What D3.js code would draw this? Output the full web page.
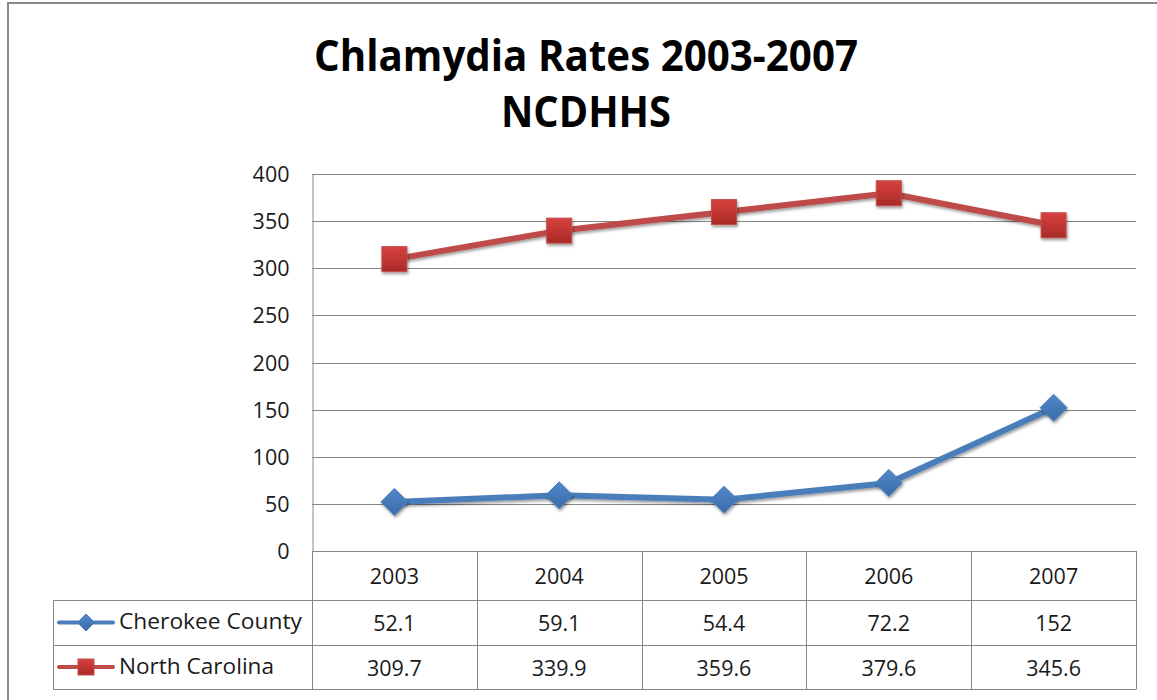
<!DOCTYPE html>
<html>
<head>
<meta charset="UTF-8">
<script src="https://cdnjs.cloudflare.com/ajax/libs/d3/7.8.5/d3.min.js"></script>
<style>
  body { margin: 0; background: #fff; }
  svg { display: block; }
</style>
</head>
<body>
<div id="chart"></div>
<script>
// dados
const years = ['2003', '2004', '2005', '2006', '2007'];
const cherokee = [52.1, 59.1, 54.4, 72.2, 152];
const northCarolina = [309.7, 339.9, 359.6, 379.6, 345.6];
const cherokeeLabels = ['52.1', '59.1', '54.4', '72.2', '152'];
const ncLabels = ['309.7', '339.9', '359.6', '379.6', '345.6'];
const yTicks = [0, 50, 100, 150, 200, 250, 300, 350, 400];

const series = [
  { name: 'Cherokee County', values: cherokee, labels: cherokeeLabels, color: '#4a7ebb', shape: 'diamond' },
  { name: 'North Carolina', values: northCarolina, labels: ncLabels, color: '#be4b48', shape: 'square' }
];

const width = 1157, height = 700;
const font = "'Open Sans', 'Liberation Sans', sans-serif";
const fs = 21.5;
const plot = { left: 312, right: 1136, top: 174, bottom: 551 };
const tableLeft = 53;
const rowH = [49, 45, 44];

const svg = d3.select('#chart').append('svg')
  .attr('width', width).attr('height', height);

const defs = svg.append('defs');
const shadow = defs.append('filter').attr('id', 'shadow')
  .attr('x', '-50%').attr('y', '-50%').attr('width', '200%').attr('height', '200%');
shadow.append('feDropShadow').attr('dx', 1).attr('dy', 2)
  .attr('stdDeviation', 1.6).attr('flood-color', '#000').attr('flood-opacity', 0.4);

function gradient(id, top, bottom) {
  const g = defs.append('linearGradient').attr('id', id)
    .attr('x1', 0).attr('y1', 0).attr('x2', 0).attr('y2', 1);
  g.append('stop').attr('offset', '0%').attr('stop-color', top);
  g.append('stop').attr('offset', '100%').attr('stop-color', bottom);
}
gradient('gradRed', '#d8413e', '#a92a27');
gradient('gradBlue', '#5189cc', '#3a6aa8');

// moldura externa
svg.append('rect')
  .attr('x', 8).attr('y', 3).attr('width', 1200).attr('height', 750)
  .attr('fill', 'none').attr('stroke', '#8a8a8a').attr('stroke-width', 2);

// título
const title = svg.append('g').attr('font-family', font).attr('font-weight', 'bold')
  .attr('text-anchor', 'middle').attr('fill', '#000');
title.append('text').attr('x', 586).attr('y', 71).attr('font-size', 43)
  .attr('textLength', 544).attr('lengthAdjust', 'spacingAndGlyphs')
  .text('Chlamydia Rates 2003-2007');
title.append('text').attr('x', 586).attr('y', 127).attr('font-size', 43)
  .attr('textLength', 170).attr('lengthAdjust', 'spacingAndGlyphs')
  .text('NCDHHS');

// escalas
const x = d3.scaleBand().domain(years).range([plot.left, plot.right]);
const y = d3.scaleLinear().domain([0, 400]).range([plot.bottom, plot.top]);

// grade
svg.append('g').selectAll('line').data(yTicks).enter().append('line')
  .attr('x1', plot.left).attr('x2', plot.right)
  .attr('y1', d => Math.round(y(d)) + 0.5).attr('y2', d => Math.round(y(d)) + 0.5)
  .attr('stroke', '#868686').attr('stroke-width', 1);

// eixo y
const yAxis = svg.append('g').attr('transform', `translate(${plot.left + 0.5},0)`)
  .call(d3.axisLeft(y).tickValues(yTicks).tickSize(0).tickPadding(23));
yAxis.select('.domain').attr('stroke', '#868686');
yAxis.selectAll('text').attr('font-family', font).attr('font-size', fs)
  .attr('fill', '#1a1a1a').attr('dy', '0.35em');

// tabela de dados
const table = svg.append('g');
const rowY = [plot.bottom];
rowH.forEach((h, i) => rowY.push(rowY[i] + h));
const tStroke = '#868686';

// linhas horizontais
[1, 2, 3].forEach(r => {
  table.append('line').attr('x1', tableLeft).attr('x2', plot.right)
    .attr('y1', rowY[r] + 0.5).attr('y2', rowY[r] + 0.5).attr('stroke', tStroke);
});
// linhas verticais
const colEdges = years.map(d => x(d)).concat([plot.right]);
table.selectAll('.vcol').data(colEdges).enter().append('line')
  .attr('x1', d => Math.round(d) + 0.5).attr('x2', d => Math.round(d) + 0.5)
  .attr('y1', rowY[0]).attr('y2', rowY[3] + 0.5).attr('stroke', tStroke);
table.append('line').attr('x1', tableLeft + 0.5).attr('x2', tableLeft + 0.5)
  .attr('y1', rowY[1]).attr('y2', rowY[3] + 0.5).attr('stroke', tStroke);

// cabeçalho
table.selectAll('.yr').data(years).enter().append('text')
  .attr('x', d => x(d) + x.bandwidth() / 2)
  .attr('y', (rowY[0] + rowY[1]) / 2 + 1)
  .attr('dy', '0.35em').attr('text-anchor', 'middle')
  .attr('font-family', font).attr('font-size', fs).attr('fill', '#1a1a1a')
  .text(d => d);

function drawMarker(sel, shape, size) {
  if (shape === 'square') {
    sel.append('rect').attr('x', -size / 2).attr('y', -size / 2)
      .attr('width', size).attr('height', size)
      .attr('fill', 'url(#gradRed)').attr('stroke', '#c0504d').attr('stroke-width', 1);
  } else {
    const r = size / 2;
    sel.append('path').attr('d', `M0,${-r}L${r},0L0,${r}L${-r},0Z`)
      .attr('fill', 'url(#gradBlue)').attr('stroke', '#4a7ebb').attr('stroke-width', 1);
  }
}

series.forEach((s, i) => {
  const cy = (rowY[i + 1] + rowY[i + 2]) / 2;
  // legenda na tabela
  const key = table.append('g').attr('transform', `translate(${tableLeft + 33},${cy})`);
  key.append('line').attr('x1', -27).attr('x2', 27).attr('stroke', s.color)
    .attr('stroke-width', 4).attr('stroke-linecap', 'round');
  drawMarker(key.append('g'), s.shape, s.shape === 'square' ? 16 : 17);
  table.append('text').attr('x', 119).attr('y', cy - 1).attr('dy', '0.35em')
    .attr('font-family', font).attr('font-size', fs).attr('fill', '#1a1a1a')
    .attr('textLength', s.shape === 'square' ? 155 : 183).attr('lengthAdjust', 'spacingAndGlyphs')
    .text(s.name);
  table.selectAll('.v' + i).data(s.labels).enter().append('text')
    .attr('x', (d, j) => x(years[j]) + x.bandwidth() / 2)
    .attr('y', cy + 1).attr('dy', '0.35em').attr('text-anchor', 'middle')
    .attr('font-family', font).attr('font-size', fs).attr('fill', '#1a1a1a')
    .text(d => d);
});

// linhas das séries
const line = d3.line()
  .x((d, i) => x(years[i]) + x.bandwidth() / 2)
  .y(d => y(d));

series.forEach(s => {
  const g = svg.append('g');
  g.append('path').datum(s.values).attr('d', line)
    .attr('fill', 'none').attr('stroke', s.color).attr('stroke-width', 6)
    .attr('stroke-linejoin', 'round').attr('filter', 'url(#shadow)');
  g.selectAll('.m').data(s.values).enter().append('g')
    .attr('transform', (d, i) => `translate(${x(years[i]) + x.bandwidth() / 2},${y(d)})`)
    .attr('filter', 'url(#shadow)')
    .each(function () { drawMarker(d3.select(this), s.shape, s.shape === 'square' ? 25 : 27); });
});
</script>
</body>
</html>
